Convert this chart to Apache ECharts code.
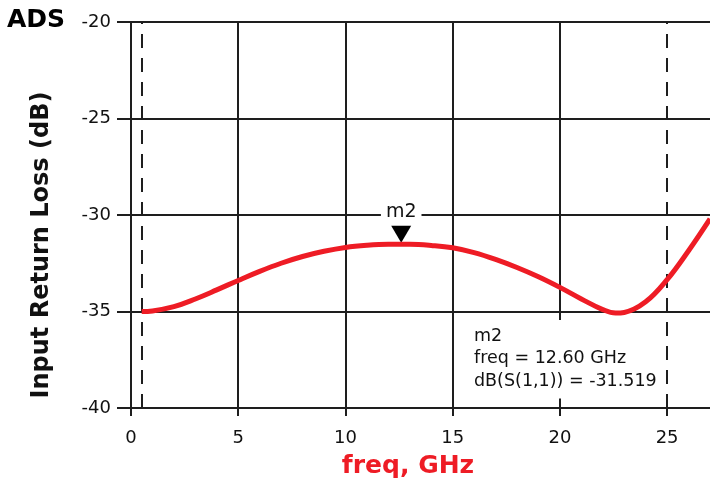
<!DOCTYPE html>
<html>
<head>
<meta charset="utf-8">
<script src="https://cdn.jsdelivr.net/npm/echarts@6/dist/echarts.min.js"></script>
<style>
html,body{margin:0;padding:0;background:#fff;}
#c{width:710px;height:488px;}
</style>
</head>
<body>
<div id="c"></div>
<script>
// Data
const freqGHz = [0.5, 1, 2, 3, 4, 5, 6, 7, 8, 9, 10, 11, 12, 12.6, 13, 14, 15, 16, 17, 18, 19, 20, 21, 22, 22.6, 23, 24, 25, 26, 27];
const s11dB   = [-35.0, -34.97, -34.75, -34.35, -33.88, -33.39, -32.92, -32.5, -32.15, -31.88, -31.68, -31.57, -31.52, -31.519, -31.52, -31.58, -31.7, -31.95, -32.3, -32.72, -33.2, -33.75, -34.35, -34.9, -35.08, -35.05, -34.5, -33.35, -31.85, -30.2];
const xTicks = [0, 5, 10, 15, 20, 25];
const yTicks = [-40, -35, -30, -25, -20];
const dashedFreqs = [0.5, 25];
const marker = { name: 'm2', freq: 12.6, value: -31.519 };
const texts = {
  brand: 'ADS',
  yTitle: 'Input Return Loss (dB)',
  xTitle: 'freq, GHz',
  readout: ['m2', 'freq = 12.60 GHz', 'dB(S(1,1)) = -31.519']
};

const FONT = '"DejaVu Sans", sans-serif';
const ink = '#1e1e1e';
const red = '#ee1c25';

// solid vertical grid lines at ticks, except the axis (0) and where a dashed marker line sits
const solidVGrid = xTicks.filter(v => v !== 0 && dashedFreqs.indexOf(v) < 0);

const chart = echarts.init(document.getElementById('c'), null, { renderer: 'canvas' });
chart.setOption({
  animation: false,
  backgroundColor: '#fff',
  grid: { left: 131, right: 0, top: 22, bottom: 80, containLabel: false },
  xAxis: {
    type: 'value', min: 0, max: 27, interval: 5,
    axisLine: { show: true, lineStyle: { color: ink, width: 2 } },
    axisTick: { show: true, inside: false, length: 8, lineStyle: { color: ink, width: 2 } },
    axisLabel: { color: '#111', fontSize: 18, fontFamily: FONT, margin: 21, showMaxLabel: false,
      formatter: v => (xTicks.indexOf(v) >= 0 ? String(v) : '') },
    splitLine: { show: false }
  },
  yAxis: {
    type: 'value', min: yTicks[0], max: yTicks[yTicks.length - 1], interval: 5,
    axisLine: { show: true, lineStyle: { color: ink, width: 2 } },
    axisTick: { show: true, inside: false, length: 14, lineStyle: { color: ink, width: 2 } },
    axisLabel: { color: '#111', fontSize: 18, fontFamily: FONT, margin: 20 },
    splitLine: { show: true, lineStyle: { color: ink, width: 2 } }
  },
  series: [{
    type: 'line',
    data: freqGHz.map((f, i) => [f, s11dB[i]]),
    smooth: 0.4,
    showSymbol: false,
    symbol: 'none',
    lineStyle: { color: red, width: 5 },
    z: 5,
    markLine: {
      silent: true,
      symbol: 'none',
      label: { show: false },
      lineStyle: { color: ink, width: 2, type: 'solid' },
      data: solidVGrid.map(f => ({ xAxis: f }))
        .concat(dashedFreqs.map(f => ({ xAxis: f, lineStyle: { color: ink, width: 2, type: [14, 10] } })))
    },
    markPoint: {
      silent: true,
      symbol: 'triangle',
      symbolRotate: 180,
      symbolSize: [20, 17],
      symbolOffset: [0, -10],
      itemStyle: { color: '#000' },
      label: {
        show: true, position: 'top', distance: 4,
        formatter: marker.name, color: '#111', fontSize: 19, fontFamily: FONT,
        backgroundColor: '#fff', padding: [0, 5]
      },
      data: [{ coord: [marker.freq, marker.value] }]
    }
  }],
  graphic: [
    { type: 'text', left: 7, top: 8,
      style: { text: texts.brand, font: '900 25px ' + FONT, fill: '#000' } },
    { type: 'text', x: 42, y: 245, rotation: Math.PI / 2,
      style: { text: texts.yTitle, font: 'bold 24px ' + FONT, fill: '#111', align: 'center', verticalAlign: 'middle' } },
    { type: 'text', x: 408, y: 466,
      style: { text: texts.xTitle, font: 'bold 25px ' + FONT, fill: red, align: 'center', verticalAlign: 'middle' } },
    { type: 'text', x: 469, y: 320, z: 10,
      style: { text: texts.readout.join('\n'), font: '17.5px ' + FONT, fill: '#111', lineHeight: 22.5,
        backgroundColor: '#fff', padding: [5, 1, 6, 5] } }
  ]
});
</script>
</body>
</html>
